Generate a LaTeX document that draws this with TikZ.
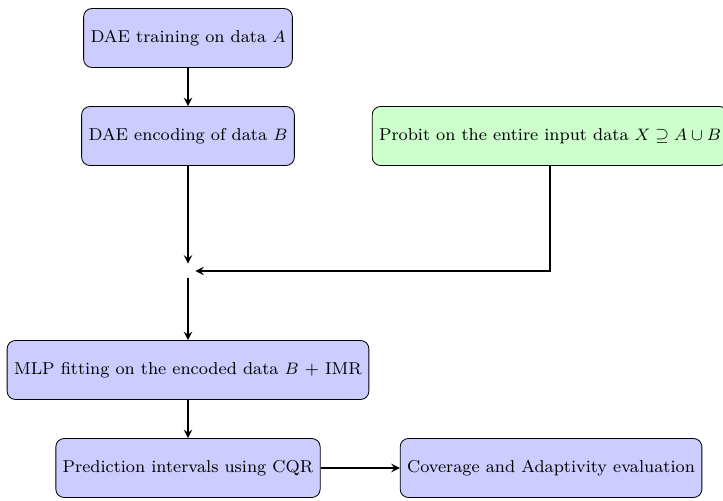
\documentclass[tikz,border=0pt]{standalone}
\usetikzlibrary{arrows}
\begin{document}
\begin{tikzpicture}[x=0.01695cm, y=-0.01695cm, >=stealth,
  bluebox/.style={draw, rounded corners=4pt, fill=blue!20, minimum height=1cm, font=\fontsize{8.3}{10}\selectfont, align=center},
  greenbox/.style={bluebox, fill=green!20},
  flow/.style={->, thick}]
\useasboundingbox (0,0) rectangle (723,500);
\node[bluebox] (a) at (188,38) {DAE training on data $A$};
\node[bluebox] (b) at (188,136) {DAE encoding of data $B$};
\node[greenbox] (p) at (550,136) {Probit on the entire input data $X \supseteq A \cup B$};
\node (j) at (188,271) {};
\node[bluebox] (m) at (188,370) {MLP fitting on the encoded data $B$ + IMR};
\node[bluebox] (q) at (188,468) {Prediction intervals using CQR};
\node[bluebox] (c) at (551,468) {Coverage and Adaptivity evaluation};
\draw[flow] (a) -- (b);
\draw[flow] (b) -- (j);
\draw[flow] (p.south) |- (j);
\draw[flow] (j) -- (m);
\draw[flow] (m) -- (q);
\draw[flow] (q) -- (c);
\end{tikzpicture}
\end{document}
